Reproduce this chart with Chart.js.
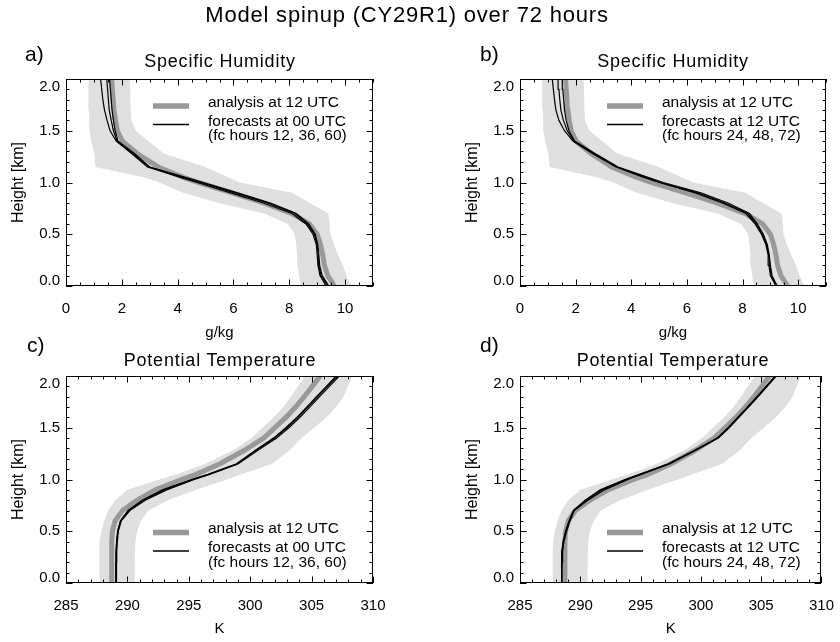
<!DOCTYPE html>
<html>
<head>
<meta charset="utf-8">
<title>Model spinup (CY29R1) over 72 hours</title>
<script src="https://cdn.jsdelivr.net/npm/chart.js@4.4.1/dist/chart.umd.min.js"></script>
<style>
  body { margin: 0; background: #fff; }
  #page { position: relative; width: 840px; height: 642px; font-family: "Liberation Sans", Arial, sans-serif; color: #000; }
  canvas { position: absolute; }
  .txt { position: absolute; white-space: nowrap; }
  .ttl { position: absolute; width: 400px; text-align: center; font-size: 18px; letter-spacing: 0.8px; line-height: 24px; white-space: nowrap; }
</style>
</head>
<body>
<div id="page">
  <canvas id="pa" width="420" height="345" style="left:0;top:0"></canvas>
  <canvas id="pb" width="420" height="345" style="left:420px;top:0"></canvas>
  <canvas id="pc" width="420" height="321" style="left:0;top:321px"></canvas>
  <canvas id="pd" width="420" height="321" style="left:420px;top:321px"></canvas>

  <div class="txt" style="left:0;top:1px;width:814px;text-align:center;font-size:22px;letter-spacing:0.8px;line-height:28px">Model spinup (CY29R1) over 72 hours</div>
  <div class="txt" style="left:25px;top:41px;font-size:21px;line-height:26px">a)</div>
  <div class="txt" style="left:480px;top:41px;font-size:21px;line-height:26px">b)</div>
  <div class="txt" style="left:27px;top:332px;font-size:21px;line-height:26px">c)</div>
  <div class="txt" style="left:480px;top:332px;font-size:21px;line-height:26px">d)</div>
  <div class="ttl" style="left:20px;top:49px">Specific Humidity</div>
  <div class="ttl" style="left:473px;top:49px">Specific Humidity</div>
  <div class="ttl" style="left:20px;top:348px">Potential Temperature</div>
  <div class="ttl" style="left:473px;top:348px">Potential Temperature</div>
</div>
<script>
// model levels (km) shared by every profile
const levels = [0, 0.1, 0.2, 0.3, 0.4, 0.5, 0.6, 0.7, 0.8, 0.9, 1.0, 1.05, 1.15, 1.28, 1.4, 1.5, 1.6, 1.7, 1.8, 1.9, 2.0, 2.1];
const heightTicks = [0, 0.5, 1.0, 1.5, 2.0];

// specific humidity (g/kg)
const qTicks = [0, 2, 4, 6, 8, 10];
const qAnalysis = [9.62, 9.38, 9.26, 9.2, 9.12, 9.0, 8.72, 8.1, 7.1, 5.95, 4.75, 4.2, 3.3, 2.55, 2.02, 1.84, 1.77, 1.72, 1.69, 1.66, 1.64, 1.62];
const qBandLow = [8.4, 8.35, 8.3, 8.28, 8.25, 8.2, 7.95, 7.1, 5.5, 4.2, 3.35, 2.77, 1.06, 1.02, 0.9, 0.85, 0.83, 0.82, 0.81, 0.8, 0.8, 0.8];
const qBandHigh = [10.22, 10.05, 9.92, 9.75, 9.6, 9.47, 9.45, 9.4, 8.75, 8.1, 6.23, 5.81, 4.98, 3.5, 2.95, 2.5, 2.34, 2.32, 2.31, 2.3, 2.29, 2.28];
const qFc12h = [9.32, 9.1, 9.03, 9.0, 8.97, 8.85, 8.6, 8.1, 7.1, 5.9, 4.7, 4.1, 2.92, 2.35, 1.8, 1.58, 1.47, 1.38, 1.32, 1.28, 1.24, 1.2];
const qFc36h = [9.38, 9.14, 9.06, 9.04, 9.0, 8.9, 8.65, 8.2, 7.25, 6.05, 4.82, 4.2, 2.98, 2.4, 1.83, 1.7, 1.62, 1.55, 1.52, 1.49, 1.46, 1.43];
const qFc60h = [9.42, 9.18, 9.09, 9.06, 9.02, 8.93, 8.7, 8.25, 7.35, 6.15, 4.92, 4.28, 3.0, 2.45, 1.86, 1.76, 1.7, 1.65, 1.62, 1.59, 1.56, 1.53];
const qFc24h = [9.2, 9.0, 8.95, 8.92, 8.84, 8.68, 8.45, 8.12, 7.3, 6.3, 5.0, 4.45, 3.45, 2.6, 1.9, 1.6, 1.4, 1.29, 1.24, 1.2, 1.16, 1.12];
const qFc48h = [9.22, 9.03, 8.98, 8.94, 8.86, 8.71, 8.49, 8.19, 7.39, 6.37, 5.06, 4.53, 3.49, 2.65, 1.93, 1.7, 1.56, 1.47, 1.43, 1.4, 1.37, 1.34];
const qFc72h = [9.25, 9.06, 9.0, 8.96, 8.89, 8.75, 8.53, 8.25, 7.5, 6.5, 5.15, 4.6, 3.53, 2.7, 1.96, 1.76, 1.66, 1.6, 1.57, 1.54, 1.52, 1.5];

// potential temperature (K)
const thTicks = [285, 290, 295, 300, 305, 310];
const thAnalysis = [288.72, 288.72, 288.72, 288.72, 288.73, 288.78, 289.0, 289.6, 290.8, 292.3, 294.4, 295.6, 297.5, 299.5, 301.1, 302.0, 302.9, 303.7, 304.4, 305.05, 305.7, 306.3];
const thBandLow = [287.7, 287.7, 287.7, 287.72, 287.76, 287.88, 288.1, 288.45, 289.0, 290.0, 292.6, 294.0, 296.3, 298.6, 300.1, 301.0, 301.9, 302.7, 303.3, 303.9, 304.5, 305.1];
const thBandHigh = [290.6, 290.6, 290.6, 290.62, 290.65, 290.8, 291.1, 291.7, 293.3, 295.6, 298.1, 299.3, 301.75, 303.2, 304.2, 305.2, 306.2, 307.0, 307.6, 307.95, 308.3, 308.8];
const thFc12h = [289.07, 289.07, 289.08, 289.1, 289.15, 289.22, 289.45, 290.1, 291.3, 293.0, 295.3, 296.6, 298.9, 300.4, 301.9, 302.9, 303.8, 304.6, 305.4, 306.2, 307.0, 307.8];
const thFc36h = [289.1, 289.1, 289.11, 289.13, 289.18, 289.26, 289.5, 290.2, 291.45, 293.2, 295.45, 296.7, 299.0, 300.6, 302.15, 303.15, 304.05, 304.85, 305.65, 306.45, 307.25, 308.05];
const thFc60h = [289.04, 289.04, 289.05, 289.07, 289.12, 289.2, 289.42, 290.05, 291.2, 292.85, 295.2, 296.55, 298.85, 300.45, 302.0, 303.0, 303.9, 304.7, 305.5, 306.3, 307.1, 307.9];
const thFc24h = [288.45, 288.45, 288.46, 288.5, 288.6, 288.82, 289.1, 289.45, 290.5, 291.8, 293.8, 294.95, 297.3, 299.5, 301.4, 302.3, 303.1, 303.9, 304.7, 305.45, 306.2, 306.9];
const thFc48h = [288.48, 288.48, 288.49, 288.53, 288.64, 288.86, 289.15, 289.5, 290.62, 292.0, 293.95, 295.05, 297.4, 299.55, 301.45, 302.35, 303.15, 303.95, 304.75, 305.5, 306.25, 306.95];
const thFc72h = [288.43, 288.43, 288.44, 288.48, 288.57, 288.78, 289.06, 289.42, 290.4, 291.65, 293.7, 294.9, 297.25, 299.45, 301.35, 302.25, 303.05, 303.85, 304.65, 305.4, 306.15, 306.85];

const legend00 = ["analysis at 12 UTC", "forecasts at 00 UTC", "(fc hours 12, 36, 60)"];
const legend12 = ["analysis at 12 UTC", "forecasts at 12 UTC", "(fc hours 24, 48, 72)"];

const FONT = '"Liberation Sans", Arial, sans-serif';
Chart.defaults.font.family = FONT;
Chart.defaults.color = '#000';

const profile = xs => levels.map((h, i) => ({ x: xs[i], y: h }));

// box around the plot with IDL-style inward ticks on all four sides
const frameTicks = {
  id: 'frameTicks',
  afterDatasetsDraw(chart, args, opts) {
    const { ctx, chartArea: a, scales: { x, y } } = chart;
    const L = Math.round(a.left), R = Math.round(a.right), T = Math.round(a.top), B = Math.round(a.bottom);
    ctx.save();
    ctx.strokeStyle = '#000';
    ctx.lineWidth = 1;
    ctx.strokeRect(L + 0.5, T + 0.5, R - L - 1, B - T - 1);
    ctx.beginPath();
    const nx = Math.round((x.max - x.min) / opts.xMinor);
    for (let i = 0; i <= nx; i++) {
      const v = x.min + i * opts.xMinor;
      const major = opts.xMajor.some(m => Math.abs(m - v) < 1e-6);
      const len = major ? 6.5 : 3.5;
      const px = Math.round(x.getPixelForValue(v)) + 0.5;
      ctx.moveTo(px, B); ctx.lineTo(px, B - len);
      ctx.moveTo(px, T); ctx.lineTo(px, T + len);
    }
    const ny = Math.round((y.max - y.min) / opts.yMinor);
    for (let i = 0; i <= ny; i++) {
      const v = y.min + i * opts.yMinor;
      const major = heightTicks.some(m => Math.abs(m - v) < 1e-6);
      const len = major ? 6.5 : 3.5;
      const py = Math.round(y.getPixelForValue(v)) + 0.5;
      ctx.moveTo(L, py); ctx.lineTo(L + len, py);
      ctx.moveTo(R, py); ctx.lineTo(R - len, py);
    }
    ctx.stroke();
    ctx.restore();
  }
};

// height labels, end labels pulled inside the box like the original
const heightLabels = {
  id: 'heightLabels',
  afterDraw(chart) {
    const { ctx, chartArea: a, scales: { y } } = chart;
    ctx.save();
    ctx.font = '15px ' + FONT;
    ctx.fillStyle = '#000';
    ctx.textAlign = 'right';
    ctx.textBaseline = 'middle';
    heightTicks.forEach(v => {
      let py = y.getPixelForValue(v);
      py = Math.min(Math.max(py, a.top + 8), a.bottom - 5);
      ctx.fillText(v.toFixed(1), a.left - 6, py);
    });
    ctx.restore();
  }
};

const profileLegend = {
  id: 'profileLegend',
  afterDatasetsDraw(chart, args, opts) {
    const { ctx, chartArea: a } = chart;
    const x0 = a.left + 87, x1 = a.left + 123, tx = a.left + 142;
    const t = a.top + opts.top;
    ctx.save();
    ctx.strokeStyle = '#999';
    ctx.lineWidth = 5.5;
    ctx.beginPath(); ctx.moveTo(x0, t + 3.5); ctx.lineTo(x1, t + 3.5); ctx.stroke();
    ctx.strokeStyle = '#000';
    ctx.lineWidth = 1.5;
    ctx.beginPath(); ctx.moveTo(x0, t + 22); ctx.lineTo(x1, t + 22); ctx.stroke();
    ctx.font = '15.5px ' + FONT;
    ctx.fillStyle = '#000';
    ctx.textBaseline = 'middle';
    ctx.fillText(opts.lines[0], tx, t);
    ctx.fillText(opts.lines[1], tx, t + 19);
    ctx.fillText(opts.lines[2], tx, t + 33.5);
    ctx.restore();
  }
};

function makePanel(id, cfg) {
  const datasets = [
    ...cfg.forecasts.map(xs => ({ data: profile(xs), borderColor: '#000', borderWidth: 1.2, clip: 0 })),
    { data: profile(cfg.analysis), borderColor: '#999', borderWidth: 5, clip: 0 },
    { data: profile(cfg.low), borderColor: 'rgba(0,0,0,0)', borderWidth: 0, backgroundColor: '#dfdfdf', fill: '+1', clip: 0 },
    { data: profile(cfg.high), borderColor: 'rgba(0,0,0,0)', borderWidth: 0, clip: 0 }
  ];
  return new Chart(document.getElementById(id), {
    type: 'line',
    data: { datasets },
    options: {
      responsive: false,
      animation: false,
      events: [],
      indexAxis: 'y',
      elements: { point: { radius: 0 }, line: { tension: 0 } },
      layout: { padding: cfg.padding },
      plugins: {
        legend: { display: false },
        tooltip: { enabled: false },
        frameTicks: { xMajor: cfg.xTicks, xMinor: cfg.xMinor, yMinor: 0.1 },
        profileLegend: { top: cfg.legendTop, lines: cfg.legend }
      },
      scales: {
        x: {
          type: 'linear',
          position: 'bottom',
          min: cfg.xMin,
          max: cfg.xMax,
          afterBuildTicks: s => { s.ticks = cfg.xTicks.map(v => ({ value: v })); },
          afterFit: s => { s.height = 59; },
          grid: { display: false },
          border: { display: false },
          ticks: { font: { size: 15 }, padding: 6, maxRotation: 0, autoSkip: false },
          title: { display: true, text: cfg.xTitle, font: { size: 15 }, padding: { top: 0, bottom: cfg.xTitlePad } }
        },
        y: {
          type: 'linear',
          position: 'left',
          min: 0,
          max: 2,
          afterFit: s => { s.width = 66; },
          grid: { display: false },
          border: { display: false },
          ticks: { display: false },
          title: { display: true, text: 'Height [km]', font: { size: 16 }, padding: { top: 8.7, bottom: 0 } }
        }
      }
    },
    plugins: [frameTicks, heightLabels, profileLegend]
  });
}

const humidity = { analysis: qAnalysis, low: qBandLow, high: qBandHigh, xMin: 0, xMax: 11, xTicks: qTicks, xMinor: 0.5, xTitle: 'g/kg', xTitlePad: 3, legendTop: 23.5 };
const theta = { analysis: thAnalysis, low: thBandLow, high: thBandHigh, xMin: 285, xMax: 310, xTicks: thTicks, xMinor: 1, xTitle: 'K', xTitlePad: 3.7, legendTop: 153 };

makePanel('pa', { ...humidity, forecasts: [qFc12h, qFc36h, qFc60h], legend: legend00, padding: { left: 0, right: 47, top: 79, bottom: 0 } });
makePanel('pb', { ...humidity, forecasts: [qFc24h, qFc48h, qFc72h], legend: legend12, padding: { left: 34, right: 14, top: 79, bottom: 0 } });
makePanel('pc', { ...theta, forecasts: [thFc12h, thFc36h, thFc60h], legend: legend00, padding: { left: 0, right: 47, top: 55, bottom: 0 } });
makePanel('pd', { ...theta, forecasts: [thFc24h, thFc48h, thFc72h], legend: legend12, padding: { left: 34, right: 14, top: 55, bottom: 0 } });
</script>
</body>
</html>
